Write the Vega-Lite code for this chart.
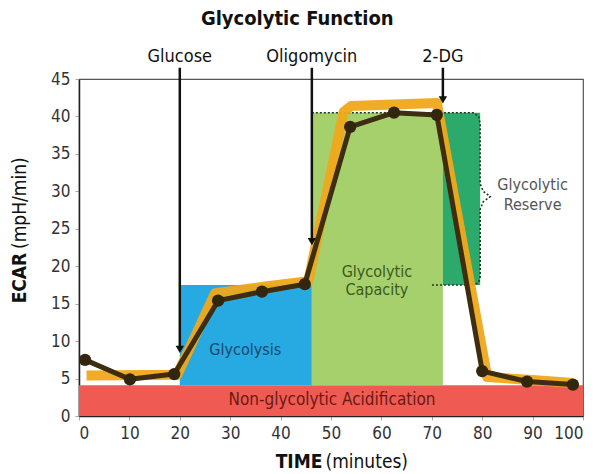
{
  "$schema": "https://vega.github.io/schema/vega-lite/v6.json",
  "width": 504,
  "height": 337,
  "autosize": {"type": "none"},
  "padding": {"left": 79, "top": 79, "right": 17, "bottom": 58},
  "background": "white",
  "config": {
    "font": "Liberation Sans Narrow, DejaVu Sans Condensed, Roboto",
    "view": {"stroke": "#555", "strokeWidth": 1.2},
    "axis": {"grid": false, "labelFont": "Liberation Sans Narrow, DejaVu Sans Condensed, Roboto", "labelFontSize": 17, "labelColor": "#333", "tickColor": "#aaa", "tickSize": 4, "domainColor": "#222", "domainWidth": 1.5, "labelPadding": 5, "labelOverlap": false}
  },
  "title": {"text": "Glycolytic Function", "fontSize": 20, "fontWeight": "bold", "font": "Liberation Sans Narrow, DejaVu Sans Condensed, Roboto", "color": "#111", "anchor": "middle", "frame": "bounds", "offset": 19},
  "datasets": {
    "regions": [
      {"name": "Non-glycolytic Acidification", "x0": 0, "x1": 100, "y0": 0, "y1": 4.1, "c": "#EF5B52"},
      {"name": "Glycolysis", "x0": 20, "x1": 46.2, "y0": 4.1, "y1": 17.5, "c": "#27AAE1"},
      {"name": "Glycolytic Capacity", "x0": 46.2, "x1": 72.2, "y0": 4.1, "y1": 40.5, "c": "#A6D06C"},
      {"name": "Glycolytic Reserve", "x0": 72.2, "x1": 79.6, "y0": 17.5, "y1": 40.5, "c": "#2BAA6C"}
    ],
    "brace": [
      {"o": 1, "x": 46.2, "y": 40.5},
      {"o": 2, "x": 78.2, "y": 40.5},
      {"o": 3, "x": 79.3, "y": 40.0},
      {"o": 4, "x": 79.6, "y": 39.0},
      {"o": 5, "x": 79.6, "y": 31.0},
      {"o": 6, "x": 80.2, "y": 30.0},
      {"o": 7, "x": 81.6, "y": 29.3},
      {"o": 8, "x": 80.2, "y": 28.6},
      {"o": 9, "x": 79.6, "y": 27.6},
      {"o": 10, "x": 79.6, "y": 18.6},
      {"o": 11, "x": 79.3, "y": 17.8},
      {"o": 12, "x": 78.2, "y": 17.5},
      {"o": 13, "x": 70.0, "y": 17.5}
    ],
    "band": [
      {"o": 1, "x": 1.5, "y": 5.4},
      {"o": 2, "x": 19.5, "y": 5.5},
      {"o": 3, "x": 27, "y": 16.4},
      {"o": 4, "x": 37, "y": 17.3},
      {"o": 5, "x": 45.5, "y": 18.0},
      {"o": 6, "x": 52.5, "y": 40.6},
      {"o": 7, "x": 54, "y": 41.4},
      {"o": 8, "x": 71, "y": 41.8},
      {"o": 9, "x": 81, "y": 5.2},
      {"o": 10, "x": 90, "y": 4.8},
      {"o": 11, "x": 98, "y": 4.4}
    ],
    "ecar": [
      {"t": 1.2, "v": 7.5},
      {"t": 10.1, "v": 4.9},
      {"t": 18.9, "v": 5.6},
      {"t": 27.6, "v": 15.4},
      {"t": 36.3, "v": 16.6},
      {"t": 44.8, "v": 17.6},
      {"t": 53.8, "v": 38.6},
      {"t": 62.5, "v": 40.5},
      {"t": 71.0, "v": 40.2},
      {"t": 80.0, "v": 6.0},
      {"t": 88.9, "v": 4.6},
      {"t": 98.0, "v": 4.2}
    ],
    "arrows": [
      {"label": "Glucose", "x": 20, "top": 46.5, "tip": 8.2, "head": 8.9, "ly": 47.9},
      {"label": "Oligomycin", "x": 46.2, "top": 46.5, "tip": 22.6, "head": 23.3, "ly": 47.9},
      {"label": "2-DG", "x": 72.2, "top": 46.5, "tip": 41.5, "head": 42.2, "ly": 47.9}
    ],
    "labels": [
      {"text": "Glycolysis", "x": 33, "y": 8.8, "c": "#17466E", "s": 16},
      {"text": "Glycolytic", "x": 59.1, "y": 19.2, "c": "#3C5A1C", "s": 16},
      {"text": "Capacity", "x": 59.1, "y": 16.8, "c": "#3C5A1C", "s": 16},
      {"text": "Glycolytic", "x": 90, "y": 30.8, "c": "#555555", "s": 16},
      {"text": "Reserve", "x": 90, "y": 28.2, "c": "#555555", "s": 16},
      {"text": "Non-glycolytic Acidification", "x": 50.2, "y": 2.1, "c": "#6A1A14", "s": 17}
    ],
    "xtitle": [
      {"text": "TIME", "x": 48.3, "y": -7.0, "a": "right"},
      {"text": "(minutes)", "x": 48.9, "y": -7.0, "a": "left"}
    ],
    "ytitle": [
      {"text": "ECAR", "x": -11.7, "y": 21.8, "a": "right"},
      {"text": "(mpH/min)", "x": -11.7, "y": 22.3, "a": "left"}
    ]
  },
  "layer": [
    {
      "data": {"name": "regions"},
      "mark": {"type": "rect"},
      "encoding": {
        "x": {"field": "x0", "type": "quantitative", "scale": {"domain": [0, 100], "nice": false}, "axis": {"values": [0, 10, 20, 30, 40, 50, 60, 70, 80, 90, 100], "title": null}},
        "x2": {"field": "x1"},
        "y": {"field": "y0", "type": "quantitative", "scale": {"domain": [0, 45], "nice": false}, "axis": {"values": [0, 5, 10, 15, 20, 25, 30, 35, 40, 45], "title": null}},
        "y2": {"field": "y1"},
        "color": {"field": "c", "type": "nominal", "scale": null}
      }
    },
    {
      "data": {"name": "brace"},
      "mark": {"type": "line", "color": "#1d3a22", "strokeWidth": 1.6, "strokeDash": [2, 2]},
      "encoding": {
        "x": {"field": "x", "type": "quantitative", "axis": {"values": [0, 10, 20, 30, 40, 50, 60, 70, 80, 90, 100], "title": null}},
        "y": {"field": "y", "type": "quantitative", "axis": {"values": [0, 5, 10, 15, 20, 25, 30, 35, 40, 45], "title": null}},
        "order": {"field": "o"}
      }
    },
    {
      "data": {"name": "band"},
      "mark": {"type": "line", "color": "#EFA81A", "strokeWidth": 10, "strokeJoin": "round", "strokeCap": "butt", "opacity": 0.95},
      "encoding": {
        "x": {"field": "x", "type": "quantitative", "axis": {"values": [0, 10, 20, 30, 40, 50, 60, 70, 80, 90, 100], "title": null}},
        "y": {"field": "y", "type": "quantitative", "axis": {"values": [0, 5, 10, 15, 20, 25, 30, 35, 40, 45], "title": null}},
        "order": {"field": "o"}
      }
    },
    {
      "data": {"name": "ecar"},
      "mark": {"type": "line", "color": "#3E2D10", "strokeWidth": 5, "strokeJoin": "round", "point": {"filled": true, "size": 150, "color": "#33260E", "opacity": 1}},
      "encoding": {
        "x": {"field": "t", "type": "quantitative", "axis": {"values": [0, 10, 20, 30, 40, 50, 60, 70, 80, 90, 100], "title": null}},
        "y": {"field": "v", "type": "quantitative", "axis": {"values": [0, 5, 10, 15, 20, 25, 30, 35, 40, 45], "title": null}}
      }
    },
    {
      "data": {"name": "arrows"},
      "mark": {"type": "rule", "color": "#111", "strokeWidth": 2.5, "clip": false},
      "encoding": {
        "x": {"field": "x", "type": "quantitative", "axis": {"values": [0, 10, 20, 30, 40, 50, 60, 70, 80, 90, 100], "title": null}},
        "y": {"field": "top", "type": "quantitative", "axis": {"values": [0, 5, 10, 15, 20, 25, 30, 35, 40, 45], "title": null}},
        "y2": {"field": "head"}
      }
    },
    {
      "data": {"name": "arrows"},
      "mark": {"type": "point", "shape": "triangle-down", "filled": true, "color": "#111", "size": 70, "opacity": 1, "clip": false},
      "encoding": {
        "x": {"field": "x", "type": "quantitative", "axis": {"values": [0, 10, 20, 30, 40, 50, 60, 70, 80, 90, 100], "title": null}},
        "y": {"field": "head", "type": "quantitative", "axis": {"values": [0, 5, 10, 15, 20, 25, 30, 35, 40, 45], "title": null}}
      }
    },
    {
      "data": {"name": "arrows"},
      "mark": {"type": "text", "fontSize": 18, "fontWeight": "normal", "color": "#111", "baseline": "middle", "clip": false},
      "encoding": {
        "x": {"field": "x", "type": "quantitative", "axis": {"values": [0, 10, 20, 30, 40, 50, 60, 70, 80, 90, 100], "title": null}},
        "y": {"field": "ly", "type": "quantitative", "axis": {"values": [0, 5, 10, 15, 20, 25, 30, 35, 40, 45], "title": null}},
        "text": {"field": "label"}
      }
    },
    {
      "data": {"name": "labels"},
      "mark": {"type": "text", "baseline": "middle"},
      "encoding": {
        "x": {"field": "x", "type": "quantitative", "axis": {"values": [0, 10, 20, 30, 40, 50, 60, 70, 80, 90, 100], "title": null}},
        "y": {"field": "y", "type": "quantitative", "axis": {"values": [0, 5, 10, 15, 20, 25, 30, 35, 40, 45], "title": null}},
        "text": {"field": "text"},
        "color": {"field": "c", "type": "nominal", "scale": null},
        "size": {"field": "s", "type": "quantitative", "scale": null}
      }
    },
    {
      "data": {"name": "xtitle"},
      "transform": [{"filter": "datum.a == 'right'"}],
      "mark": {"type": "text", "fontSize": 19, "fontWeight": "bold", "align": "right", "baseline": "alphabetic", "color": "#111", "clip": false},
      "encoding": {
        "x": {"field": "x", "type": "quantitative", "axis": {"values": [0, 10, 20, 30, 40, 50, 60, 70, 80, 90, 100], "title": null}},
        "y": {"field": "y", "type": "quantitative", "axis": {"values": [0, 5, 10, 15, 20, 25, 30, 35, 40, 45], "title": null}},
        "text": {"field": "text"}
      }
    },
    {
      "data": {"name": "xtitle"},
      "transform": [{"filter": "datum.a == 'left'"}],
      "mark": {"type": "text", "fontSize": 19, "fontWeight": "normal", "align": "left", "baseline": "alphabetic", "color": "#111", "clip": false},
      "encoding": {
        "x": {"field": "x", "type": "quantitative", "axis": {"values": [0, 10, 20, 30, 40, 50, 60, 70, 80, 90, 100], "title": null}},
        "y": {"field": "y", "type": "quantitative", "axis": {"values": [0, 5, 10, 15, 20, 25, 30, 35, 40, 45], "title": null}},
        "text": {"field": "text"}
      }
    },
    {
      "data": {"name": "ytitle"},
      "transform": [{"filter": "datum.a == 'right'"}],
      "mark": {"type": "text", "fontSize": 19, "fontWeight": "bold", "align": "right", "baseline": "middle", "angle": 270, "color": "#111", "clip": false},
      "encoding": {
        "x": {"field": "x", "type": "quantitative", "axis": {"values": [0, 10, 20, 30, 40, 50, 60, 70, 80, 90, 100], "title": null}},
        "y": {"field": "y", "type": "quantitative", "axis": {"values": [0, 5, 10, 15, 20, 25, 30, 35, 40, 45], "title": null}},
        "text": {"field": "text"}
      }
    },
    {
      "data": {"name": "ytitle"},
      "transform": [{"filter": "datum.a == 'left'"}],
      "mark": {"type": "text", "fontSize": 19, "fontWeight": "normal", "align": "left", "baseline": "middle", "angle": 270, "color": "#111", "clip": false},
      "encoding": {
        "x": {"field": "x", "type": "quantitative", "axis": {"values": [0, 10, 20, 30, 40, 50, 60, 70, 80, 90, 100], "title": null}},
        "y": {"field": "y", "type": "quantitative", "axis": {"values": [0, 5, 10, 15, 20, 25, 30, 35, 40, 45], "title": null}},
        "text": {"field": "text"}
      }
    }
  ]
}
